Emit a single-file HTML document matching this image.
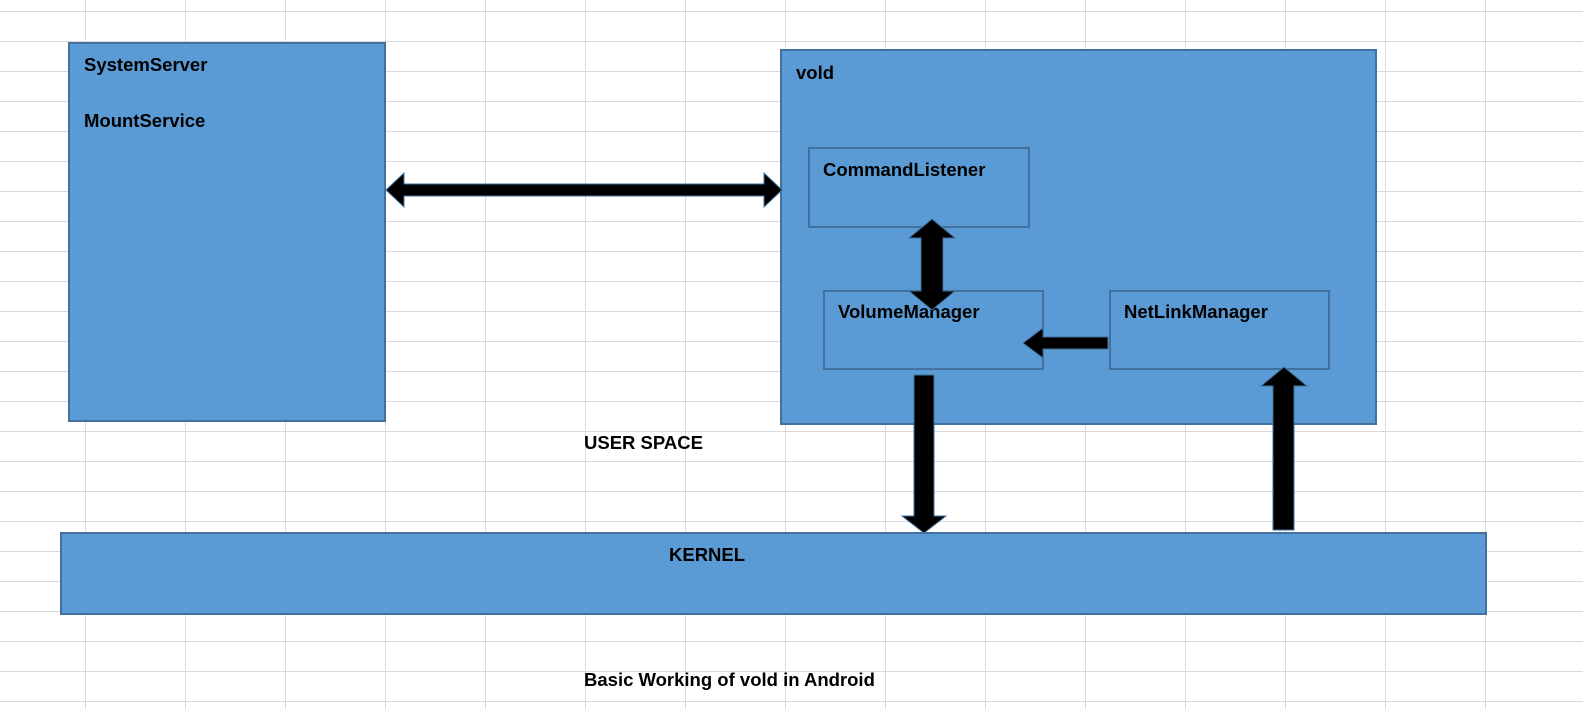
<!DOCTYPE html>
<html><head><style>
body{margin:0;width:1583px;height:709px;overflow:hidden;background:#fff;position:relative;font-family:"Liberation Sans",sans-serif;}
.grid{position:absolute;left:0;top:0;width:1583px;height:709px;
background-image:linear-gradient(to right,#d9d9d9 1px,transparent 1px),linear-gradient(to bottom,#d9d9d9 1px,transparent 1px);
background-size:100px 30px;background-position:85px 11px;}
.b{position:absolute;background:#5b9bd5;border:2px solid #41719c;box-sizing:border-box;}
.t{position:absolute;font-weight:bold;font-size:18.5px;color:#000;white-space:nowrap;}
svg{position:absolute;left:0;top:0;}
</style></head><body>
<div class="grid"></div>
<div class="b" style="left:68px;top:42px;width:318px;height:380px"></div>
<div class="b" style="left:780px;top:49px;width:597px;height:376px"></div>
<div class="b" style="left:808px;top:147px;width:222px;height:81px"></div>
<div class="b" style="left:823px;top:290px;width:221px;height:80px"></div>
<div class="b" style="left:1109px;top:290px;width:221px;height:80px"></div>
<div class="b" style="left:60px;top:532px;width:1427px;height:83px"></div>
<div class="t" style="left:84px;top:54px">SystemServer</div>
<div class="t" style="left:84px;top:110px">MountService</div>
<div class="t" style="left:796px;top:62px">vold</div>
<div class="t" style="left:823px;top:159px">CommandListener</div>
<div class="t" style="left:838px;top:301px">VolumeManager</div>
<div class="t" style="left:1124px;top:301px">NetLinkManager</div>
<div class="t" style="left:584px;top:432px">USER SPACE</div>
<div class="t" style="left:669px;top:544px">KERNEL</div>
<div class="t" style="left:584px;top:669px">Basic Working of vold in Android</div>
<svg width="1583" height="709">
<g fill="#000" stroke="#41719c" stroke-width="1">
<polygon points="386,190 404,173 404,184 764,184 764,173 782,190 764,207 764,196 404,196 404,207"/>
<polygon points="932,219 955,238 943,238 943,291 955,291 932,310 909,291 921,291 921,238 909,238"/>
<polygon points="1023,343 1043,328 1043,337 1108,337 1108,349 1043,349 1043,358"/>
<polygon points="914,375 934,375 934,516 946,516 924,533 902,516 914,516"/>
<polygon points="1284,367 1307,386 1294,386 1294,530 1273,530 1273,386 1261,386"/>
</g>
</svg>
</body></html>
